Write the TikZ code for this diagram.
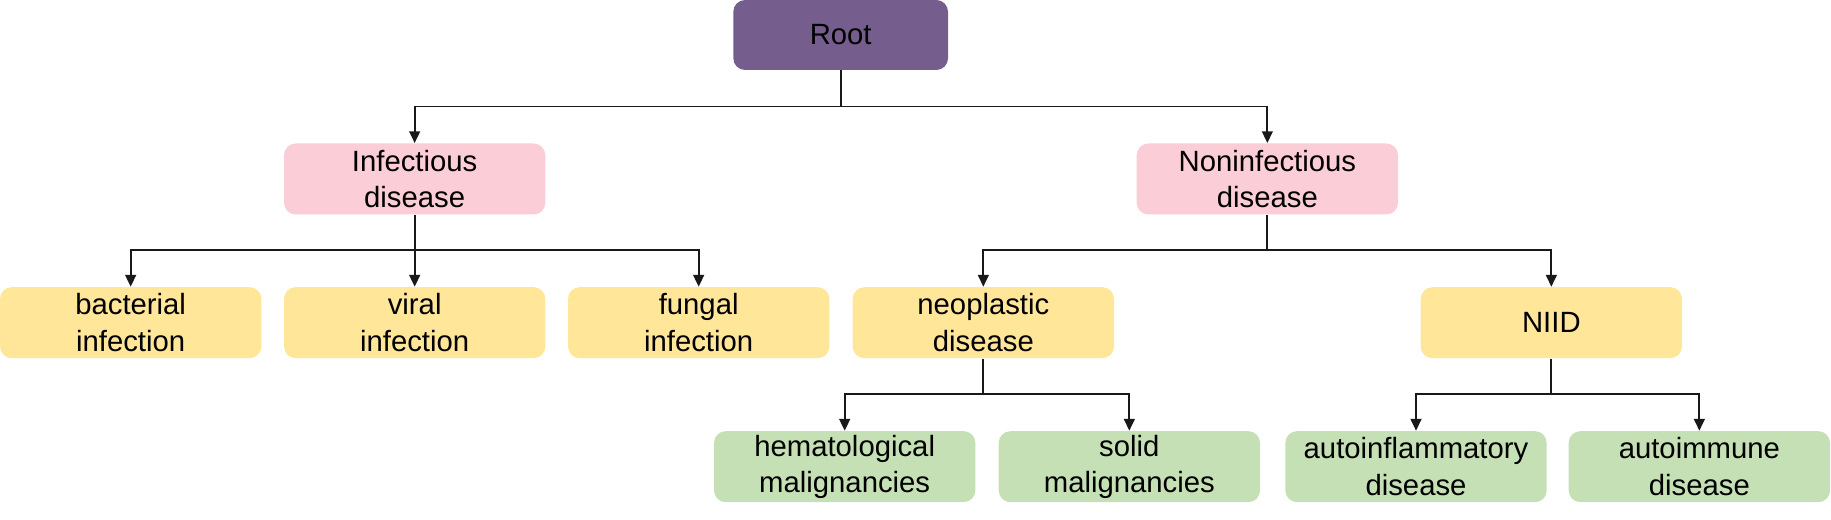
\documentclass[tikz,border=0pt]{standalone}
\usepackage{fontspec}
\setmainfont{Liberation Sans}
\usepackage{xcolor}
\usepackage{tikz}
\usetikzlibrary{arrows.meta}
\definecolor{rootpurple}{RGB}{117,94,142}
\definecolor{lightpink}{RGB}{250,205,215}
\definecolor{lightgold}{RGB}{255,230,153}
\definecolor{lightgreen}{RGB}{197,224,180}
\definecolor{linegray}{RGB}{25,25,25}

\begin{document}
\begin{tikzpicture}[
  rootbox/.style={rectangle, rounded corners=5pt, fill=rootpurple,
                  minimum width=3.22cm, minimum height=1.05cm,
                  align=center, font=\fontsize{12.5}{15.5}\selectfont},
  box/.style={rectangle, rounded corners=5pt, inner sep=0pt,
              minimum width=3.92cm, minimum height=1.065cm,
              align=center, font=\fontsize{12.5}{15.5}\selectfont},
  lvlone/.style={box, fill=lightpink},
  lvltwo/.style={box, fill=lightgold},
  lvlthree/.style={box, fill=lightgreen},
  arr/.style={-{Triangle[length=5pt, width=4.6pt]}, line width=0.75pt, draw=linegray}
]
\useasboundingbox (0,0) rectangle (27.465,-7.8);

% === Root ====================================================================
\node[rootbox]   (RT)  at (12.61, -0.525) {Root};

% === First level =============================================================
\node[lvlone]    (INF) at (6.22,  -2.685) {Infectious\\disease};
\node[lvlone]    (NIN) at (19.01, -2.685) {Noninfectious\\disease};

% === Second level ============================================================
\node[lvltwo]    (BAC) at (1.96,  -4.84)  {bacterial\\infection};
\node[lvltwo]    (VIR) at (6.22,  -4.84)  {viral\\infection};
\node[lvltwo]    (FUN) at (10.48, -4.84)  {fungal\\infection};
\node[lvltwo]    (NEO) at (14.75, -4.84)  {neoplastic\\disease};
\node[lvltwo]    (NID) at (23.27, -4.84)  {NIID};

% === Third level =============================================================
\node[lvlthree]  (HEM) at (12.67, -7.0)   {hematological\\malignancies};
\node[lvlthree]  (SOL) at (16.94, -7.0)   {solid\\malignancies};
\node[lvlthree]  (AIF) at (21.24, -7.0)   {autoinflammatory\\disease};
\node[lvlthree]  (AIM) at (25.49, -7.0)   {autoimmune\\disease};

% === Connectors ==============================================================
\draw[arr] (RT.south)  -- ++(0,-0.54) -| (INF.north);
\draw[arr] (RT.south)  -- ++(0,-0.54) -| (NIN.north);

\draw[arr] (INF.south) -- ++(0,-0.53) -| (BAC.north);
\draw[arr] (INF.south) -- ++(0,-0.53) -| (VIR.north);
\draw[arr] (INF.south) -- ++(0,-0.53) -| (FUN.north);

\draw[arr] (NIN.south) -- ++(0,-0.53) -| (NEO.north);
\draw[arr] (NIN.south) -- ++(0,-0.53) -| (NID.north);

\draw[arr] (NEO.south) -- ++(0,-0.53) -| (HEM.north);
\draw[arr] (NEO.south) -- ++(0,-0.53) -| (SOL.north);

\draw[arr] (NID.south) -- ++(0,-0.53) -| (AIF.north);
\draw[arr] (NID.south) -- ++(0,-0.53) -| (AIM.north);

\end{tikzpicture}
\end{document}
